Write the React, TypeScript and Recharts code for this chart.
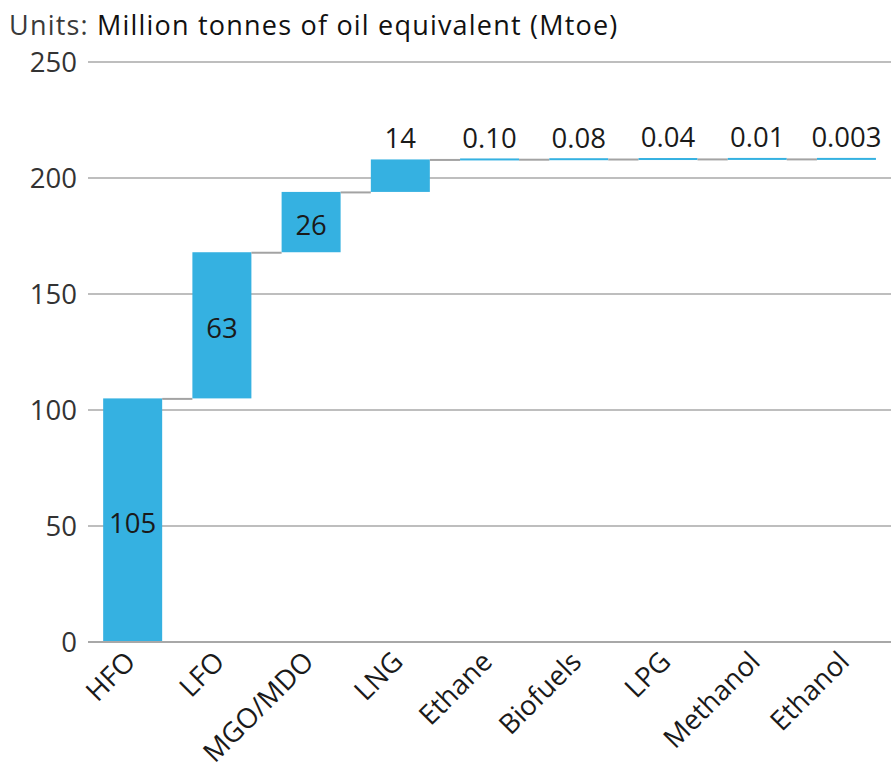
import React from "react";
import { BarChart, Bar, XAxis, YAxis, CartesianGrid, LabelList } from "recharts";

const categories = ["HFO", "LFO", "MGO/MDO", "LNG", "Ethane", "Biofuels", "LPG", "Methanol", "Ethanol"];
const values = [105, 63, 26, 14, 0.1, 0.08, 0.04, 0.01, 0.003];
const valueLabels = ["105", "63", "26", "14", "0.10", "0.08", "0.04", "0.01", "0.003"];
const yTicks = [0, 50, 100, 150, 200, 250];

const CHART_W = 891;
const CHART_H = 763;
const Y_AXIS_W = 88;
const PLOT_TOP = 62;
const PLOT_BOTTOM = 642;
const BAND = (CHART_W - Y_AXIS_W) / categories.length;

const BAR_COLOR = "#35b1e1";
const CONNECTOR = "#a3a3a3";
const FONT = "'Open Sans', Lato, sans-serif";
const FONT_SIZE = 27.5;

// waterfall rows: invisible base + visible step
let running = 0;
const data = categories.map((name, i) => {
  const row = { name, base: running, value: values[i], label: valueLabels[i] };
  running += values[i];
  return row;
});

function StepShape(props: any) {
  const { x, y, width, height, index } = props;
  const h = Math.max(height, 2);
  const top = height < 2 ? y + height - 1 : y;
  const gap = BAND - width;
  const isLast = index === data.length - 1;
  return (
    <g>
      <rect x={x} y={top} width={width} height={h} fill={BAR_COLOR} />
      {!isLast && (
        <line x1={x + width} x2={x + width + gap} y1={y + 0.5} y2={y + 0.5} stroke={CONNECTOR} strokeWidth={2} />
      )}
    </g>
  );
}

function StepLabel(props: any) {
  const { x, y, width, height, index } = props;
  const row = data[index];
  const inside = row.value >= 20;
  const cx = x + width / 2;
  const cy = inside ? y + height / 2 + 2 : y - 22;
  return (
    <text x={cx} y={cy} textAnchor="middle" dominantBaseline="central" fontSize={FONT_SIZE} fill="#1a1a1a" fontFamily={FONT}>
      {row.label}
    </text>
  );
}

function CategoryTick(props: any) {
  const { x, y, payload } = props;
  return (
    <g transform={`translate(${x - 12},${y - 3})`}>
      <text transform="rotate(-45)" textAnchor="end" dominantBaseline="hanging" fontSize={FONT_SIZE} fill="#1a1a1a" fontFamily={FONT}>
        {payload.value}
      </text>
    </g>
  );
}

export default function App() {
  return (
    <div style={{ position: "absolute", left: 0, top: 0, width: CHART_W, height: CHART_H, background: "#fff", fontFamily: FONT, overflow: "hidden" }}>
      <div style={{ position: "absolute", left: 9, top: 11, fontSize: 27, letterSpacing: 1.2, color: "#111", whiteSpace: "nowrap", lineHeight: "27px" }}>
        <span style={{ color: "#3a3a3a" }}>Units: </span>Million tonnes of oil equivalent (Mtoe)
      </div>
      <BarChart
        width={CHART_W}
        height={CHART_H}
        data={data}
        margin={{ top: PLOT_TOP, right: 0, left: 0, bottom: 0 }}
        barCategoryGap="17%"
      >
        <CartesianGrid vertical={false} stroke="#a8a8a8" strokeWidth={1.5} />
        <XAxis
          dataKey="name"
          interval={0}
          height={CHART_H - PLOT_BOTTOM}
          tickLine={false}
          axisLine={{ stroke: "#a8a8a8", strokeWidth: 2 }}
          tick={<CategoryTick />}
        />
        <YAxis
          domain={[0, 250]}
          ticks={yTicks}
          width={Y_AXIS_W}
          axisLine={false}
          tickLine={false}
          tickMargin={5}
          tick={{ fontSize: FONT_SIZE, fill: "#333", fontFamily: FONT }}
        />
        <Bar dataKey="base" stackId="w" fill="transparent" isAnimationActive={false} />
        <Bar dataKey="value" stackId="w" shape={<StepShape />} isAnimationActive={false}>
          <LabelList dataKey="value" content={<StepLabel />} />
        </Bar>
      </BarChart>
    </div>
  );
}
